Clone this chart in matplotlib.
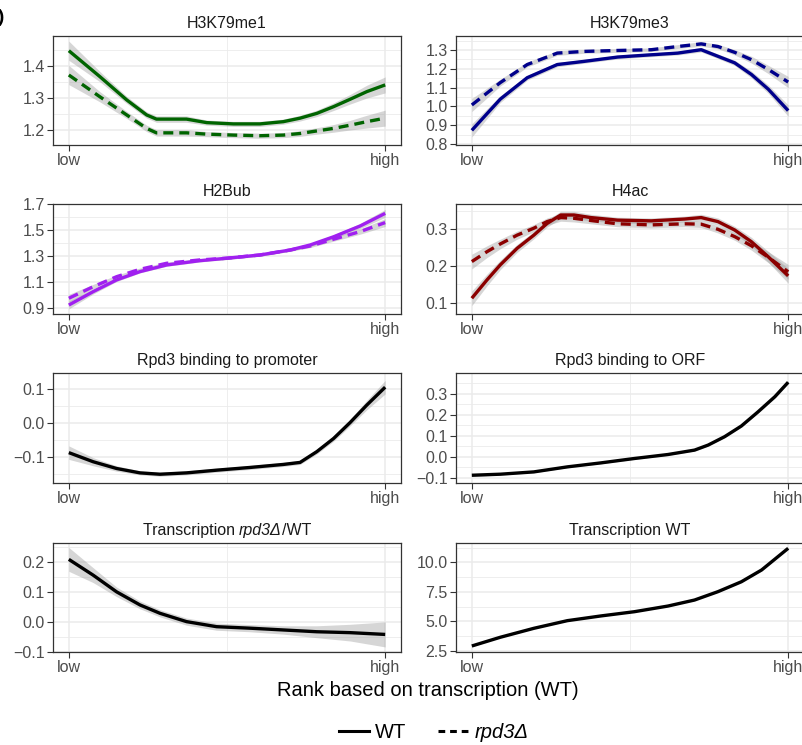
import matplotlib
matplotlib.use('Agg')
import matplotlib.pyplot as plt
from matplotlib.lines import Line2D
from matplotlib.offsetbox import TextArea, HPacker, AnchoredOffsetbox
import numpy as np

plt.rcParams['font.family'] = ['Liberation Sans', 'DejaVu Sans']

# ---- data (x: 0 = low rank, 1 = high rank) ----
# H3K79me1
me1_x = [0, 0.098, 0.183, 0.246, 0.277, 0.372, 0.436, 0.52, 0.604, 0.678, 0.731, 0.784, 0.837, 0.889, 0.942, 1.0]
me1_wt = [1.447, 1.366, 1.293, 1.246, 1.233, 1.233, 1.222, 1.218, 1.218, 1.225, 1.236, 1.251, 1.272, 1.295, 1.319, 1.34]
me1_rpd = [1.371, 1.303, 1.246, 1.204, 1.19, 1.19, 1.186, 1.183, 1.181, 1.183, 1.188, 1.196, 1.204, 1.214, 1.225, 1.236]
me1_ci = [0.03, 0.016, 0.011, 0.01, 0.01, 0.01, 0.008, 0.008, 0.008, 0.008, 0.009, 0.01, 0.012, 0.015, 0.02, 0.025]
# H3K79me3
me3_x = [0, 0.09, 0.175, 0.27, 0.355, 0.461, 0.567, 0.651, 0.725, 0.778, 0.831, 0.884, 0.937, 1.0]
me3_wt = [0.873, 1.039, 1.153, 1.223, 1.24, 1.263, 1.275, 1.284, 1.302, 1.267, 1.232, 1.17, 1.092, 0.978]
me3_rpd = [1.008, 1.127, 1.223, 1.284, 1.293, 1.298, 1.302, 1.319, 1.333, 1.319, 1.288, 1.249, 1.197, 1.13]
me3_ci = [0.035, 0.018, 0.013, 0.012, 0.01, 0.01, 0.01, 0.01, 0.012, 0.012, 0.014, 0.018, 0.022, 0.03]
# H2Bub
h2b_x = [0, 0.077, 0.151, 0.225, 0.309, 0.414, 0.499, 0.604, 0.699, 0.763, 0.837, 0.921, 1.0]
h2b_wt = [0.925, 1.028, 1.118, 1.182, 1.233, 1.266, 1.285, 1.31, 1.348, 1.387, 1.45, 1.533, 1.63]
h2b_rpd = [0.977, 1.066, 1.143, 1.2, 1.246, 1.272, 1.285, 1.31, 1.348, 1.379, 1.431, 1.49, 1.559]
h2b_ci = [0.03, 0.018, 0.012, 0.01, 0.01, 0.01, 0.01, 0.01, 0.01, 0.012, 0.015, 0.02, 0.03]
# H4ac
h4_x = [0, 0.048, 0.09, 0.143, 0.196, 0.238, 0.281, 0.323, 0.376, 0.461, 0.567, 0.673, 0.725, 0.778, 0.831, 0.884, 0.937, 1.0]
h4_wt = [0.112, 0.162, 0.203, 0.248, 0.284, 0.316, 0.339, 0.339, 0.332, 0.325, 0.323, 0.328, 0.332, 0.321, 0.298, 0.266, 0.225, 0.173]
h4_rpd = [0.212, 0.239, 0.26, 0.284, 0.303, 0.321, 0.332, 0.33, 0.324, 0.315, 0.312, 0.315, 0.314, 0.30, 0.28, 0.255, 0.224, 0.184]
h4_ci = [0.02, 0.016, 0.013, 0.011, 0.01, 0.01, 0.01, 0.01, 0.009, 0.008, 0.008, 0.008, 0.009, 0.01, 0.01, 0.012, 0.015, 0.02]
# Rpd3 binding to promoter
prom_x = [0, 0.077, 0.151, 0.225, 0.288, 0.372, 0.467, 0.572, 0.678, 0.731, 0.784, 0.837, 0.889, 0.942, 1.0]
prom_y = [-0.088, -0.115, -0.135, -0.148, -0.152, -0.148, -0.14, -0.132, -0.123, -0.117, -0.085, -0.046, 0.001, 0.053, 0.106]
prom_ci = [0.02, 0.012, 0.008, 0.006, 0.006, 0.006, 0.006, 0.006, 0.006, 0.006, 0.007, 0.008, 0.01, 0.014, 0.02]
# Rpd3 binding to ORF
orf_x = [0, 0.09, 0.196, 0.302, 0.408, 0.514, 0.62, 0.704, 0.747, 0.799, 0.852, 0.905, 0.958, 1.0]
orf_y = [-0.088, -0.083, -0.072, -0.048, -0.029, -0.008, 0.011, 0.032, 0.056, 0.096, 0.147, 0.215, 0.287, 0.356]
orf_ci = [0.006, 0.004, 0.004, 0.004, 0.004, 0.004, 0.004, 0.004, 0.004, 0.005, 0.005, 0.006, 0.007, 0.008]
# Transcription rpd3D/WT
rat_x = [0, 0.077, 0.151, 0.225, 0.288, 0.372, 0.467, 0.572, 0.678, 0.784, 0.889, 1.0]
rat_y = [0.21, 0.157, 0.101, 0.057, 0.029, 0.001, -0.016, -0.021, -0.027, -0.033, -0.036, -0.042]
rat_ci = [0.04, 0.025, 0.016, 0.013, 0.012, 0.012, 0.012, 0.012, 0.014, 0.02, 0.028, 0.042]
# Transcription WT
twt_x = [0, 0.09, 0.196, 0.302, 0.408, 0.514, 0.62, 0.704, 0.778, 0.852, 0.916, 1.0]
twt_y = [2.9, 3.64, 4.4, 5.05, 5.45, 5.81, 6.29, 6.8, 7.51, 8.35, 9.35, 11.19]
twt_ci = [0.05, 0.03, 0.03, 0.03, 0.03, 0.03, 0.03, 0.03, 0.04, 0.04, 0.05, 0.06]

# titles: list of (text, italic) pieces
titles = [[('H3K79me1', False)], [('H3K79me3', False)], [('H2Bub', False)], [('H4ac', False)],
          [('Rpd3 binding to promoter', False)], [('Rpd3 binding to ORF', False)],
          [('Transcription ', False), ('rpd3Δ', True), ('/WT', False)],
          [('Transcription WT', False)]]
yticks = [[1.2, 1.3, 1.4], [0.8, 0.9, 1.0, 1.1, 1.2, 1.3],
          [0.9, 1.1, 1.3, 1.5, 1.7], [0.1, 0.2, 0.3],
          [-0.1, 0.0, 0.1], [-0.1, 0.0, 0.1, 0.2, 0.3],
          [-0.1, 0.0, 0.1, 0.2], [2.5, 5.0, 7.5, 10.0]]
ylabels = [['1.2', '1.3', '1.4'], ['0.8', '0.9', '1.0', '1.1', '1.2', '1.3'],
           ['0.9', '1.1', '1.3', '1.5', '1.7'], ['0.1', '0.2', '0.3'],
           ['\u22120.1', '0.0', '0.1'], ['\u22120.1', '0.0', '0.1', '0.2', '0.3'],
           ['\u22120.1', '0.0', '0.1', '0.2'], ['2.5', '5.0', '7.5', '10.0']]
ylims = [(1.152, 1.493), (0.795, 1.375), (0.856, 1.702), (0.069, 0.369),
         (-0.178, 0.148), (-0.125, 0.40), (-0.101, 0.265), (2.39, 11.64)]

panels = [
    (me1_x, [(me1_wt, me1_ci), (me1_rpd, me1_ci)], '#006400'),
    (me3_x, [(me3_wt, me3_ci), (me3_rpd, me3_ci)], '#00008B'),
    (h2b_x, [(h2b_wt, h2b_ci), (h2b_rpd, h2b_ci)], '#A020F0'),
    (h4_x, [(h4_wt, h4_ci), (h4_rpd, h4_ci)], '#8B0000'),
    (prom_x, [(prom_y, prom_ci)], 'black'),
    (orf_x, [(orf_y, orf_ci)], 'black'),
    (rat_x, [(rat_y, rat_ci)], 'black'),
    (twt_x, [(twt_y, twt_ci)], 'black'),
]

W, H = 803, 745
fig = plt.figure(figsize=(W / 100, H / 100), dpi=100)

col_left = [53, 456]
col_w = 348
rows = [(36, 145), (204, 314), (373, 483), (543, 652)]

dash = (0, (3, 1.8))
for i, (x, series, col) in enumerate(panels):
    r, c = divmod(i, 2)
    top, bot = rows[r]
    ax = fig.add_axes([col_left[c] / W, 1 - bot / H, col_w / W, (bot - top) / H])
    x = np.array(x)
    for j, (y, ci) in enumerate(series):
        y = np.array(y)
        ci = np.array(ci)
        ax.fill_between(x, y - ci, y + ci, color='#999999', alpha=0.4, lw=0, zorder=2)
        ax.plot(x, y, color=col, lw=2.4, ls='-' if j == 0 else dash,
                solid_capstyle='butt', solid_joinstyle='round', zorder=3)
    ax.set_xlim(-0.05, 1.05)
    ax.set_xticks([0, 1])
    ax.set_xticklabels(['low', 'high'])
    ax.set_xticks([0.5], minor=True)
    yt = yticks[i]
    ax.set_yticks(yt)
    ax.set_yticklabels(ylabels[i])
    step = yt[1] - yt[0]
    minor = [v + step / 2 for v in [yt[0] - step] + yt]
    ax.set_yticks(minor, minor=True)
    ax.set_ylim(*ylims[i])
    ax.grid(which='major', color='#EBEBEB', lw=1.1, zorder=0)
    ax.grid(which='minor', color='#EBEBEB', lw=0.6, zorder=0)
    ax.set_axisbelow(True)
    ax.tick_params(which='major', length=4, width=0.8, color='#333333',
                   labelcolor='#4D4D4D', labelsize=11.5, pad=2)
    ax.tick_params(which='minor', length=0)
    for s in ax.spines.values():
        s.set_color('#333333')
        s.set_linewidth(0.9)
    parts = [TextArea(t, textprops=dict(fontsize=11.5, color='#1A1A1A',
                                        fontstyle='italic' if it else 'normal'))
             for t, it in titles[i]]
    box = HPacker(children=parts, align='baseline', pad=0, sep=0)
    anc = AnchoredOffsetbox(loc='lower center', child=box, pad=0, frameon=False,
                            bbox_to_anchor=(0.5, 1.0), bbox_transform=ax.transAxes,
                            borderpad=0.35)
    ax.add_artist(anc)

fig.text(0.0065, 1 - 17 / H, 'b)', ha='right', va='center', fontsize=14, fontweight='bold')
fig.text((53 + 803) / 2 / W, 1 - 690 / H, 'Rank based on transcription (WT)',
         ha='center', va='center', fontsize=14.5)

handles = [Line2D([], [], color='black', lw=2.2, ls='-'),
           Line2D([], [], color='black', lw=2.2, ls=(0, (2.2, 1.6)))]
leg = fig.legend(handles, ['WT', 'rpd3Δ'], loc='center',
                 bbox_to_anchor=(0.54, 1 - 733 / H), ncol=2, frameon=False,
                 fontsize=14.5, handlelength=1.5, columnspacing=1.6, handletextpad=0.3)
leg.get_texts()[1].set_fontstyle('italic')

fig.savefig('out.png', dpi=100)
